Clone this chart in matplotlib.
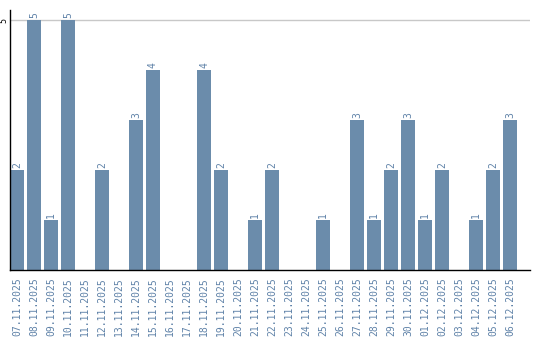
import matplotlib
matplotlib.use('Agg')
import matplotlib.pyplot as plt
import numpy as np

# data
dates = ['07.11.2025', '08.11.2025', '09.11.2025', '10.11.2025', '11.11.2025',
         '12.11.2025', '13.11.2025', '14.11.2025', '15.11.2025', '16.11.2025',
         '17.11.2025', '18.11.2025', '19.11.2025', '20.11.2025', '21.11.2025',
         '22.11.2025', '23.11.2025', '24.11.2025', '25.11.2025', '26.11.2025',
         '27.11.2025', '28.11.2025', '29.11.2025', '30.11.2025', '01.12.2025',
         '02.12.2025', '03.12.2025', '04.12.2025', '05.12.2025', '06.12.2025']
counts = [2, 5, 1, 5, 0, 2, 0, 3, 4, 0,
          0, 4, 2, 0, 1, 2, 0, 0, 1, 0,
          3, 1, 2, 3, 1, 2, 0, 1, 2, 3]

bar_col = '#6b8cab'
txt_col = '#5f82a8'
bw = 14/17.

fig = plt.figure(figsize=(5.4, 3.4), dpi=100, facecolor='w')
ax = fig.add_axes([10/540, 70/340, 520/540, 260/340])

x = np.arange(len(dates))
ax.bar(x, counts, width=bw, align='edge', color=bar_col, zorder=2)

for i, v in enumerate(counts):
    if v > 0:
        ax.text(i + bw/2, v + 0.05, str(v), rotation=90, ha='center', va='bottom',
                color=txt_col, fontsize=7, family='DejaVu Sans Mono', clip_on=False)

ax.set_xlim(0, 520/17.)
ax.set_ylim(0, 5.2)
ax.set_yticks([5])
ax.set_yticklabels(['5'], rotation=90, va='center', fontsize=6, family='DejaVu Sans Mono')
ax.axhline(5, color='#c8c8c8', lw=1, zorder=1)

ax.set_xticks(x + bw/2)
ax.set_xticklabels(dates, rotation=90, fontsize=7, family='DejaVu Sans Mono', color=txt_col)
ax.tick_params(axis='x', length=0, pad=5)
ax.tick_params(axis='y', length=0, pad=1)

for s in ['top', 'right']:
    ax.spines[s].set_visible(False)
ax.spines['left'].set_linewidth(1)
ax.spines['bottom'].set_linewidth(1)

fig.savefig('out.png', dpi=100)
